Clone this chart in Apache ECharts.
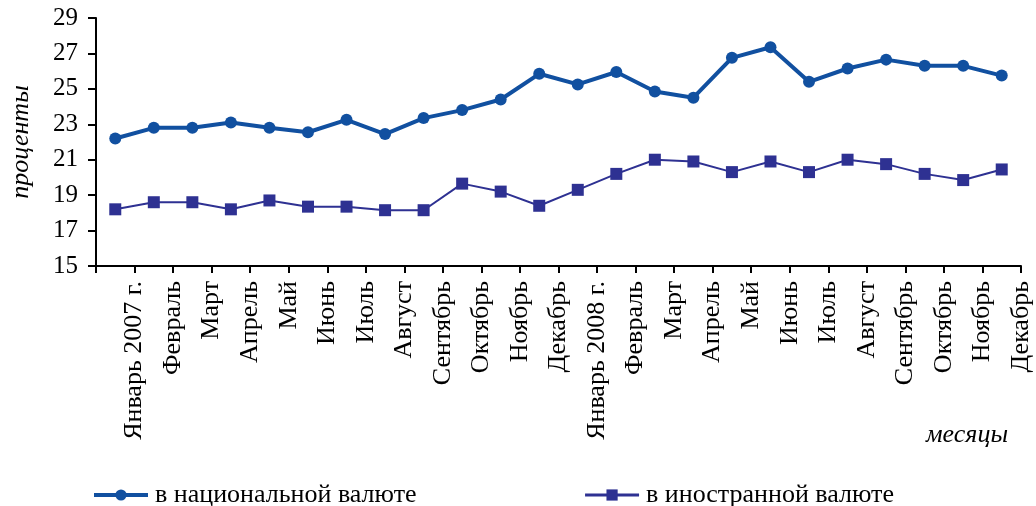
<!DOCTYPE html>
<html><head><meta charset="utf-8">
<script src="https://cdn.jsdelivr.net/npm/echarts@6/dist/echarts.min.js"></script>
<style>html,body{margin:0;padding:0;background:#fff}#c{width:1036px;height:506px}</style>
</head><body><div id="c"></div>
<script>
const categories = ['Январь 2007 г.','Февраль','Март','Апрель','Май','Июнь','Июль','Август','Сентябрь','Октябрь','Ноябрь','Декабрь',
  'Январь 2008 г.','Февраль','Март','Апрель','Май','Июнь','Июль','Август','Сентябрь','Октябрь','Ноябрь','Декабрь'];
const nationalValues = [22.2,22.8,22.8,23.1,22.8,22.55,23.25,22.45,23.35,23.8,24.4,25.85,25.25,25.95,24.85,24.5,26.75,27.35,25.4,26.15,26.65,26.3,26.3,25.75];
const foreignValues = [18.2,18.6,18.6,18.2,18.7,18.35,18.35,18.15,18.15,19.65,19.2,18.4,19.3,20.2,21.0,20.9,20.3,20.9,20.3,21.0,20.75,20.2,19.85,20.45];
const seriesNames = ['в национальной валюте','в иностранной валюте'];
const yTicks = {min:15, max:29, interval:2};

const font = 'Liberation Serif';
const colors = ['#1150A0','#2E3192'];
const chart = echarts.init(document.getElementById('c'));
chart.setOption({
  animation:false,
  textStyle:{fontFamily:font,color:'#000'},
  grid:{left:94,right:15,top:18,bottom:240,containLabel:false},
  legend:{
    top:477,left:87,itemWidth:54,itemHeight:14,itemGap:167,
    textStyle:{fontFamily:font,fontSize:26,color:'#000',padding:[0,0,0,2]},
    data:[
      {name:seriesNames[0],lineStyle:{width:4,color:colors[0]},itemStyle:{color:colors[0]}},
      {name:seriesNames[1],lineStyle:{width:3,color:colors[1]},itemStyle:{color:colors[1]}}
    ]
  },
  xAxis:[{
    type:'category',data:categories,boundaryGap:true,
    axisLine:{lineStyle:{color:'#000',width:2}},
    axisTick:{show:true,interval:0,length:7,lineStyle:{color:'#000',width:2}},
    axisLabel:{show:false},splitLine:{show:false}
  },{
    type:'category',data:[''].concat(categories),boundaryGap:false,position:'bottom',
    axisLine:{show:false},axisTick:{show:false},splitLine:{show:false},
    axisLabel:{interval:0,rotate:90,margin:15,padding:[8,0,0,0],fontFamily:font,fontSize:26,color:'#000'}
  }],
  yAxis:{
    type:'value',min:yTicks.min,max:yTicks.max,interval:yTicks.interval,
    name:'проценты',nameLocation:'middle',nameRotate:90,nameGap:62,
    nameTextStyle:{fontFamily:font,fontSize:26,fontStyle:'italic',color:'#000'},
    axisLine:{show:true,lineStyle:{color:'#000',width:2}},
    axisTick:{show:true,length:8,lineStyle:{color:'#000',width:2}},
    axisLabel:{margin:18,fontFamily:font,fontSize:25,color:'#000'},
    splitLine:{show:false}
  },
  graphic:[{type:'text',right:28,top:422,style:{text:'месяцы',font:'italic 26px "Liberation Serif"',fill:'#000'}}],
  series:[{
    name:seriesNames[0],type:'line',xAxisIndex:0,data:nationalValues,
    symbol:'circle',symbolSize:12,
    lineStyle:{color:colors[0],width:4},itemStyle:{color:colors[0]}
  },{
    name:seriesNames[1],type:'line',xAxisIndex:0,data:foreignValues,
    symbol:'rect',symbolSize:12,
    lineStyle:{color:colors[1],width:2},itemStyle:{color:colors[1]}
  }]
});
</script></body></html>
